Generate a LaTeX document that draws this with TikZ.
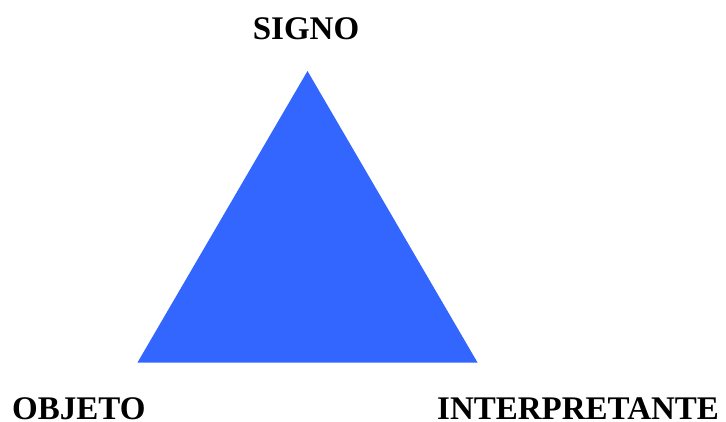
\documentclass[tikz,border=0pt]{standalone}
\usepackage{fontspec}
\setmainfont{Liberation Serif}
\definecolor{triblue}{HTML}{3366FF}
\begin{document}
\begin{tikzpicture}[x=1pt,y=-1pt,
  lbl/.style={inner sep=0pt,font=\fontsize{33}{36}\selectfont\bfseries}]
\useasboundingbox (0,0) rectangle (726,421);
\coordinate (top) at (307.5,71);
\coordinate (bl) at (137.5,362.5);
\coordinate (br) at (477.5,362.5);
\fill[triblue] (top) -- (bl) -- (br) -- cycle;
\node[lbl,anchor=base] (signo) at (306,39.5) {SIGNO};
\node[lbl,anchor=base west] (objeto) at (12,419.5) {OBJETO};
\node[lbl,anchor=base west] (interp) at (437,419.5) {INTERPRETANTE};
\end{tikzpicture}
\end{document}
